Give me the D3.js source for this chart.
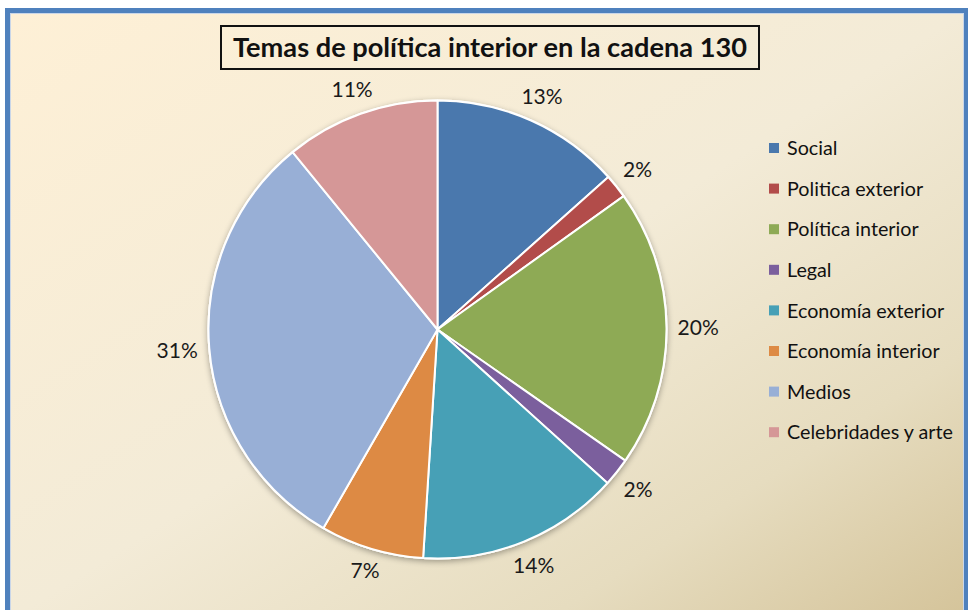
<!DOCTYPE html>
<html lang="es">
<head>
  <meta charset="UTF-8">
  <title>Temas de política interior en la cadena 130</title>
  <script src="https://cdn.jsdelivr.net/npm/d3@7"></script>
  <style>
    body { margin: 0; background: #fff; }
    svg { display: block; font-family: 'Lato', 'Open Sans', sans-serif; }
    .pctLabel { font-size: 21px; fill: #1a1a1a; }
    .legendText { fill: #111; }
    .title { font-weight: 700; fill: #111; }
  </style>
</head>
<body>
<div class="container"></div>
<script>
  // data
  var categories = ["Social", "Politica exterior", "Política interior", "Legal",
                    "Economía exterior", "Economía interior", "Medios", "Celebridades y arte"];
  var values = [13.4, 1.7, 19.6, 2.0, 14.3, 7.3, 30.8, 10.9];
  var colors = ["#4a78ad", "#b24c4a", "#8eaa55", "#7b5f9d", "#47a0b6", "#dd8a44", "#98afd6", "#d59797"];
  var titleText = "Temas de política interior en la cadena 130";

  var svgWidth = 968, svgHeight = 610;
  var cx = 437.5, cy = 329.5, radius = 229;

  var svg = d3.select('.container')
              .append('svg')
              .attr('width', svgWidth)
              .attr('height', svgHeight);

  var defs = svg.append('defs');
  var grad = defs.append('linearGradient')
                 .attr('id', 'bg')
                 .attr('x1', 0).attr('y1', 0)
                 .attr('x2', 1).attr('y2', 1);
  grad.append('stop').attr('offset', '0%').attr('stop-color', '#fef0d6');
  grad.append('stop').attr('offset', '50%').attr('stop-color', '#f3ebd7');
  grad.append('stop').attr('offset', '78%').attr('stop-color', '#e6dcbf');
  grad.append('stop').attr('offset', '100%').attr('stop-color', '#d4c399');

  var shadow = defs.append('filter')
                   .attr('id', 'shadow')
                   .attr('x', '-20%').attr('y', '-20%')
                   .attr('width', '140%').attr('height', '140%');
  shadow.append('feGaussianBlur').attr('in', 'SourceAlpha').attr('stdDeviation', 3);
  shadow.append('feOffset').attr('dx', 0).attr('dy', 2).attr('result', 'blur');
  shadow.append('feComponentTransfer').append('feFuncA').attr('type', 'linear').attr('slope', 0.35);
  var merge = shadow.append('feMerge');
  merge.append('feMergeNode');
  merge.append('feMergeNode').attr('in', 'SourceGraphic');

  // background + frame
  svg.append('rect')
     .attr('x', 8).attr('y', 11)
     .attr('width', 958).attr('height', 610)
     .attr('fill', 'url(#bg)');
  svg.append('rect')
     .attr('x', 7.5).attr('y', 10.5)
     .attr('width', 958).attr('height', 620)
     .attr('fill', 'none')
     .attr('stroke', '#4f81bd')
     .attr('stroke-width', 5);
  svg.append('rect')
     .attr('x', 10.5).attr('y', 13.5)
     .attr('width', 953).attr('height', 620)
     .attr('fill', 'none')
     .attr('stroke', '#c9d6e8')
     .attr('stroke-width', 1);

  // title
  svg.append('rect')
     .attr('x', 221).attr('y', 26)
     .attr('width', 538).attr('height', 43)
     .attr('fill', 'none')
     .attr('stroke', '#111')
     .attr('stroke-width', 2);
  var title = svg.append('text')
     .attr('class', 'title')
     .attr('x', 490).attr('y', 57)
     .attr('text-anchor', 'middle')
     .style('font-size', '25px')
     .text(titleText);
  var tw = title.node().getComputedTextLength();
  title.style('font-size', (25 * 514 / tw) + 'px');

  // pie
  var pie = d3.pie().sort(null).value(function(d) { return d; });
  var arcs = pie(values);
  var total = d3.sum(values);
  var arc = d3.arc().innerRadius(0).outerRadius(radius);

  var g = svg.append('g')
             .attr('transform', 'translate(' + cx + ',' + cy + ')');

  g.append('circle')
   .attr('r', radius + 1)
   .attr('fill', '#fff')
   .attr('filter', 'url(#shadow)');

  g.selectAll('.slice')
   .data(arcs)
   .enter().append('path')
   .attr('class', 'slice')
   .attr('d', arc)
   .attr('fill', function(d, i) { return colors[i]; })
   .attr('stroke', '#fff')
   .attr('stroke-width', 2)
   .attr('stroke-linejoin', 'round');

  // labels sit just outside the pie: box edge touches a ring at radius + gap
  var gap = 11;
  g.selectAll('.pctLabel')
   .data(arcs)
   .enter().append('text')
   .attr('class', 'pctLabel')
   .attr('text-anchor', 'middle')
   .attr('dy', '0.36em')
   .text(function(d) { return Math.round(d.value / total * 100) + '%'; })
   .attr('transform', function(d) {
     var a = (d.startAngle + d.endAngle) / 2;
     var hw = this.getComputedTextLength() / 2, hh = 8;
     var s = Math.sin(a), c = Math.cos(a);
     var dist = radius + gap + hw * Math.abs(s) + hh * Math.abs(c);
     return 'translate(' + (dist * s) + ',' + (-dist * c) + ')';
   });

  // legend
  var legend = svg.append('g').attr('transform', 'translate(769,148)');
  var row = legend.selectAll('.row')
                  .data(categories)
                  .enter().append('g')
                  .attr('class', 'row')
                  .attr('transform', function(d, i) { return 'translate(0,' + (i * 40.6) + ')'; });
  row.append('rect')
     .attr('x', 0).attr('y', -5)
     .attr('width', 10).attr('height', 10)
     .attr('fill', function(d, i) { return colors[i]; });
  var ltext = row.append('text')
     .attr('class', 'legendText')
     .attr('x', 18)
     .attr('dy', '0.36em')
     .style('font-size', '18px')
     .text(function(d) { return d; });
  var longest = d3.max(ltext.nodes(), function(n) { return n.getComputedTextLength(); });
  ltext.style('font-size', (18 * 166 / longest) + 'px');
</script>
</body>
</html>
